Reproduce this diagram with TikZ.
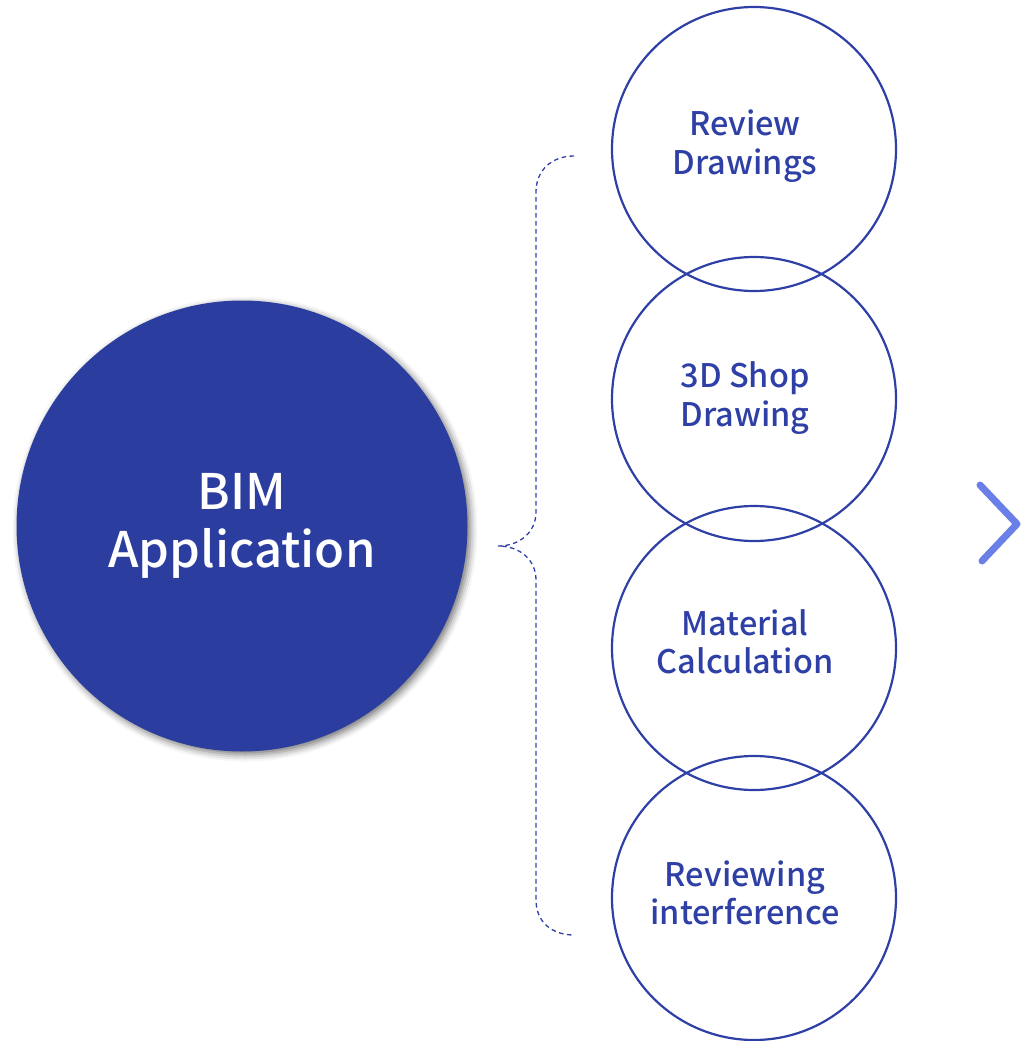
\documentclass[tikz,border=0pt]{standalone}
\usepackage{fontspec}
\setmainfont{Noto Sans CJK KR}
\newfontfamily\medf{Noto Sans CJK KR}[UprightFont=* Medium]
\usetikzlibrary{shadows.blur}
\definecolor{bimblue}{HTML}{2B3EA0}
\definecolor{lineblue}{HTML}{2E40A6}
\definecolor{chev}{HTML}{6B7FE8}
\tikzset{
  bigc/.style={circle, fill=bimblue, minimum size=451pt, inner sep=0pt,
    blur shadow={shadow xshift=3pt, shadow yshift=-3pt, shadow blur radius=7pt, shadow opacity=55},
    text=white, align=center, font=\medf\fontsize{49}{58}\selectfont},
  smallc/.style={circle, draw=lineblue, line width=2.2pt, minimum size=284pt, inner sep=0pt},
  lbl/.style={text=lineblue, align=center, font=\medf\fontsize{32.5}{38.5}\selectfont},
  bracel/.style={draw=lineblue, line width=1.3pt, dash pattern=on 4.5pt off 3.5pt},
  chevl/.style={draw=chev, line width=7pt, line cap=round, line join=round}
}
\begin{document}
\begin{tikzpicture}[x=1pt,y=-1pt]
\useasboundingbox (0,0) rectangle (1023,1041);
\node[bigc] (bim) at (242,526) {BIM\\Application};
\node[smallc] (c1) at (754,149) {};
\node[smallc] (c2) at (754,399) {};
\node[smallc] (c3) at (754,648) {};
\node[smallc] (c4) at (754,898) {};
\node[lbl] (t1) at (745,146) {Review\\Drawings};
\node[lbl] (t2) at (745,398) {3D Shop\\Drawing};
\node[lbl] (t3) at (745,642) {Material\\Calculation};
\node[lbl] (t4) at (745,893) {Reviewing\\interference};
\coordinate (btop) at (574,156);
\coordinate (bmid) at (498,546);
\coordinate (bbot) at (574,935);
\draw[bracel] (btop) .. controls (552,156) and (536,170) .. (536,192)
  -- (536,512) .. controls (536,532) and (520,546) .. (bmid)
  .. controls (520,546) and (536,560) .. (536,580)
  -- (536,900) .. controls (536,922) and (552,935) .. (bbot);
\coordinate (ch1) at (980,485);
\coordinate (ch2) at (1017,524);
\coordinate (ch3) at (982,561);
\draw[chevl] (ch1) -- (ch2) -- (ch3);
\end{tikzpicture}
\end{document}
